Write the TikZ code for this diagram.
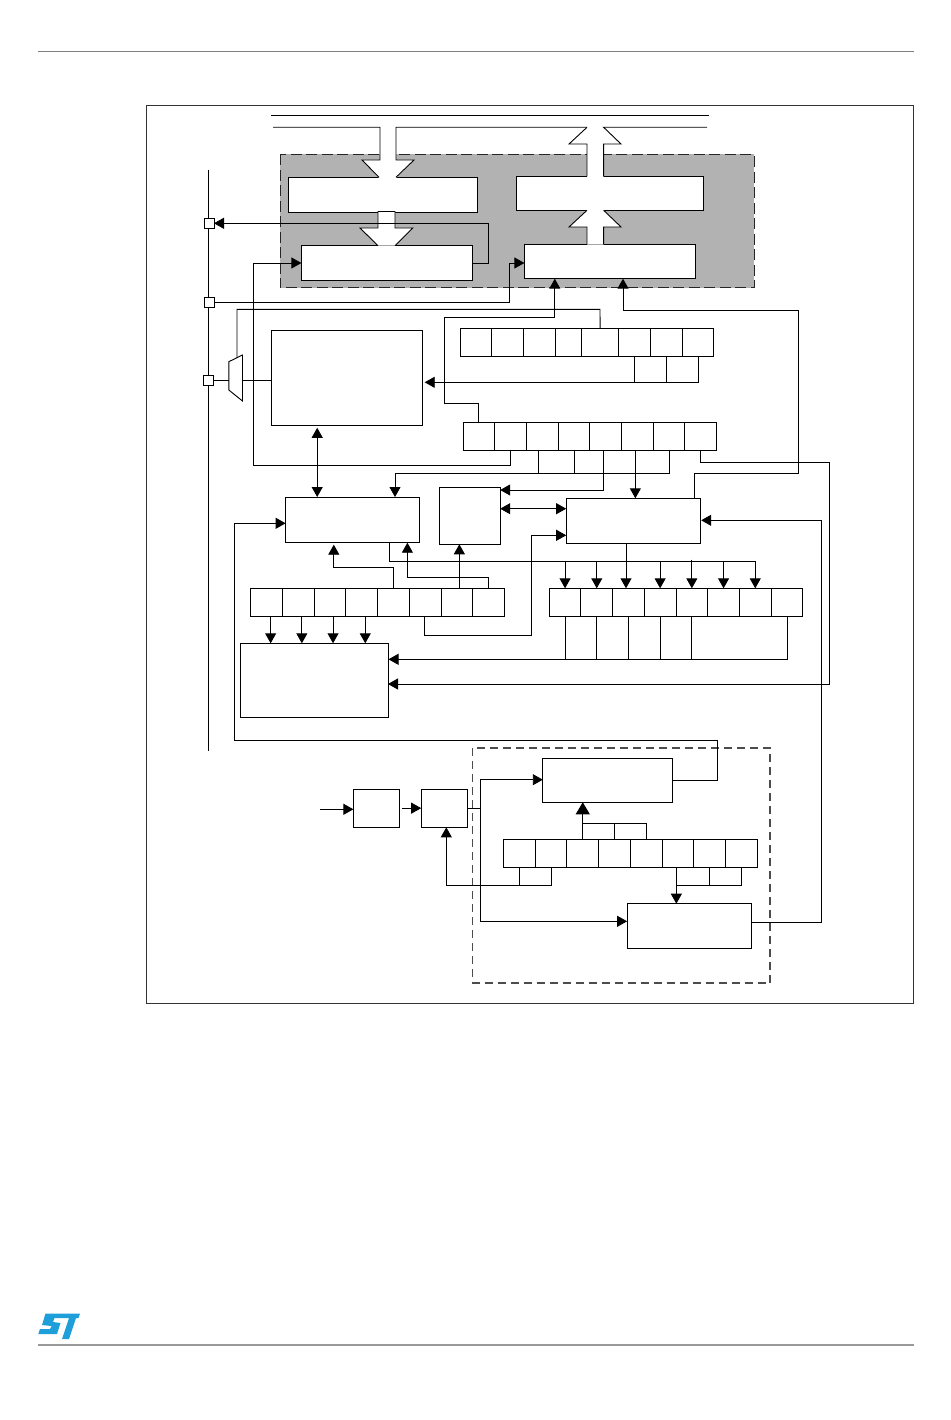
\documentclass[tikz,border=0pt]{standalone}
\usepackage{amsmath,amssymb,amsfonts}
\usetikzlibrary{arrows.meta}
\definecolor{stblue}{HTML}{1E9FDA}
\definecolor{panelgray}{HTML}{B2B2B2}
\tikzset{
  blk/.style={draw, fill=white, anchor=north west, inner sep=0pt, outer sep=0pt},
  regcell/.style={blk, minimum width=31.7pt, minimum height=28pt},
  pad/.style={draw, fill=white, minimum size=10pt, inner sep=0pt, outer sep=0pt}
}
\begin{document}
\begin{tikzpicture}[x=1pt, y=-1pt, line width=0.9pt, >={Triangle[length=10pt,width=11pt]}]
    \useasboundingbox (0,0) rectangle (950,1420);

    \draw[gray, line width=1pt] (38,52) -- (914,52);
    \draw[gray!80, line width=1.4pt] (38,1345) -- (914,1345);
    \fill[stblue] (45.5,1313.5) -- (80,1313.5) -- (78.5,1318) -- (76,1318) -- (69,1339) -- (62,1339) -- (69,1318) -- (54.5,1318) -- (53,1322) -- (60.5,1323) -- (57,1334) -- (38.3,1334) -- (40,1329) -- (50,1329) -- (51.5,1326) -- (42,1325) -- cycle;
    \draw[black!80] (146,105) rectangle (913,1003);

    \fill[panelgray] (280,154.3) rectangle (754,288);
    \draw[dash pattern=on 11pt off 4.5pt, black!85, line width=1pt] (280,154.3) rectangle (754,288);
    \draw[dash pattern=on 8pt off 5pt, black!70, line width=1.1pt] (472.5,748) rectangle (770,983);
    \draw (208,170) -- (208,751);

    \node[blk, minimum width=189.4pt, minimum height=34.7pt] (flashl) at (288.4,177.3) {};
    \node[blk, minimum width=187.2pt, minimum height=34pt] (flashr) at (516.3,176.3) {};
    \node[blk, minimum width=171.2pt, minimum height=34.6pt] (bufl) at (301.4,245.7) {};
    \node[blk, minimum width=171.3pt, minimum height=34.4pt] (bufr) at (524.4,244.3) {};

    \node[pad] (pina) at (209,223.3) {};
    \node[pad] (pinb) at (209,302.3) {};
    \node[pad] (pinc) at (208,380) {};

    \coordinate (muxl) at (228.8,380);
    \coordinate (muxr) at (242.5,380);
    \coordinate (muxt) at (237,358);
    \draw[fill=white] (228.8,361.7) -- (242.5,355) -- (242.5,401) -- (228.8,390) -- cycle;

    \node[blk, minimum width=151.3pt, minimum height=94.6pt] (conv) at (271.4,330.7) {};
    \node[blk, minimum width=134pt, minimum height=45.7pt] (ctrl) at (285.6,497) {};
    \node[blk, minimum width=60.4pt, minimum height=57.3pt] (dec) at (439.8,487) {};
    \node[blk, minimum width=134pt, minimum height=45.4pt] (core) at (566.2,498.3) {};
    \node[blk, minimum width=147.4pt, minimum height=73.7pt] (store) at (240.6,643.3) {};
    \node[blk, minimum width=129.4pt, minimum height=44pt] (capt) at (542.8,758.3) {};
    \node[blk, minimum width=46.5pt, minimum height=38.3pt] (presc) at (353.4,789) {};
    \node[blk, minimum width=46.5pt, minimum height=38.3pt] (divd) at (421.2,789) {};
    \node[blk, minimum width=124pt, minimum height=44.6pt] (cmp) at (627.1,903.7) {};

    \node[blk, minimum height=28pt, minimum width=31.5pt] (ra1) at (460.4,328) {};
    \node[blk, minimum height=28pt, minimum width=31.5pt] (ra2) at (491.9,328) {};
    \node[blk, minimum height=28pt, minimum width=32pt] (ra3) at (523.4,328) {};
    \node[blk, minimum height=28pt, minimum width=26pt] (ra4) at (555.4,328) {};
    \node[blk, minimum height=28pt, minimum width=37.4pt] (ra5) at (581.4,328) {};
    \node[blk, minimum height=28pt, minimum width=31.8pt] (ra6) at (618.8,328) {};
    \node[blk, minimum height=28pt, minimum width=31.4pt] (ra7) at (650.6,328) {};
    \node[blk, minimum height=28pt, minimum width=31.9pt] (ra8) at (682,328) {};

    \node[regcell] (rb1) at (463,422) {};
    \node[regcell] (rb2) at (494.7,422) {};
    \node[regcell] (rb3) at (526.4,422) {};
    \node[regcell] (rb4) at (558.1,422) {};
    \node[regcell] (rb5) at (589.8,422) {};
    \node[regcell] (rb6) at (621.5,422) {};
    \node[regcell] (rb7) at (653.2,422) {};
    \node[regcell] (rb8) at (684.9,422) {};

    \node[regcell] (rc1) at (250.8,588.5) {};
    \node[regcell] (rc2) at (282.5,588.5) {};
    \node[regcell] (rc3) at (314.2,588.5) {};
    \node[regcell] (rc4) at (345.9,588.5) {};
    \node[regcell] (rc5) at (377.6,588.5) {};
    \node[regcell] (rc6) at (409.3,588.5) {};
    \node[regcell] (rc7) at (441,588.5) {};
    \node[regcell] (rc8) at (472.7,588.5) {};

    \node[regcell] (rd1) at (549.2,588.3) {};
    \node[regcell] (rd2) at (580.9,588.3) {};
    \node[regcell] (rd3) at (612.6,588.3) {};
    \node[regcell] (rd4) at (644.3,588.3) {};
    \node[regcell] (rd5) at (676,588.3) {};
    \node[regcell] (rd6) at (707.7,588.3) {};
    \node[regcell] (rd7) at (739.4,588.3) {};
    \node[regcell] (rd8) at (771.1,588.3) {};

    \node[regcell] (re1) at (503.5,839.5) {};
    \node[regcell] (re2) at (535.2,839.5) {};
    \node[regcell] (re3) at (566.9,839.5) {};
    \node[regcell] (re4) at (598.6,839.5) {};
    \node[regcell] (re5) at (630.3,839.5) {};
    \node[regcell] (re6) at (662,839.5) {};
    \node[regcell] (re7) at (693.7,839.5) {};
    \node[regcell] (re8) at (725.4,839.5) {};

    \draw (271,115.3) -- (708.7,115.3);
    \fill[white] (380,127) -- (380,160) -- (362,160) -- (379,178) -- (396,178) -- (414,160) -- (396,160) -- (396,127) -- cycle;
    \draw (273,127.3) -- (380,127.3) -- (380,160) -- (362,160) -- (379,177.3);
    \draw (396,177.3) -- (414,160) -- (396,160) -- (396,127.3) -- (587,127.3);
    \fill[white] (587,177) -- (587,144) -- (569,144) -- (587,127.3) -- (603.6,127.3) -- (621,144) -- (603.6,144) -- (603.6,177) -- cycle;
    \draw (587,176.3) -- (587,144) -- (569,144) -- (587,127.3);
    \draw (707,127.3) -- (603.6,127.3) -- (621,144) -- (603.6,144) -- (603.6,176.3);
    \draw[fill=white] (378,245.7) -- (360,228) -- (378,228) -- (378,211.5) -- (395,211.5) -- (395,228) -- (412.7,228) -- (395,245.7);
    \fill[white] (587,244.7) -- (587,227) -- (569,227) -- (587,210) -- (603.6,210) -- (621,227) -- (603.6,227) -- (603.6,244.7) -- cycle;
    \draw (587,244.3) -- (587,227) -- (569,227) -- (587,210.3);
    \draw (603.6,210.3) -- (621,227) -- (603.6,227) -- (603.6,244.3);

    \draw[->] (bufl.east) -- (488.5,263) |- (pina.east);
    \draw[->] (rb2.south) |- (253,465.3) |- (bufl.west);
    \draw[->] (pinb.east) -| (509.3,263) -- (bufr.west |- 0,263);
    \draw[->] (rb1.north) |- (444,403.3) |- (554.8,317.3) -- (bufr.south -| 554.8,0);
    \draw[->] (core.north -| 694.3,0) |- (798,473.3) |- (623,310) -- (bufr.south -| 623,0);
    \draw (pinc.east) -- (muxl);
    \draw (muxr) -- (conv.west |- muxr);
    \draw (muxt) |- (600,309.3) -- (ra5.north);

    \draw[->, shorten >=2pt] (ra8.south) |- (conv.east |- 0,382.3);
    \draw (ra6.south) -- (ra6.south |- 0,382.3);
    \draw (ra7.south) -- (ra7.south |- 0,382.3);

    \draw[<->, shorten <=2.5pt] (conv.south -| 317.2,0) -- (ctrl.north -| 317.2,0);
    \draw[<->] (dec.east |- 0,508.7) -- (core.west |- 0,508.7);

    \draw[->] (rb7.south) |- (395,473.3) -- (ctrl.north -| 395,0);
    \draw ([xshift=-4pt]rb3.south) -- ([xshift=-4pt]rb3.south |- 0,473.3);
    \draw (rb4.south) -- (rb4.south |- 0,473.3);
    \draw[->] ([xshift=-2pt]rb5.south) |- (dec.east |- 0,490);
    \draw[->] ([xshift=-2pt]rb6.south) -- ([xshift=-2pt]rb6.south |- core.north);
    \draw[->] (rb8.south) |- (829.5,462.3) |- (store.east |- 0,684);

    \draw[->, shorten >=2pt] (rc5.north) |- (333.8,567.3) -- (ctrl.south -| 333.8,0);
    \draw[->] (rc8.north) |- (407.4,577) -- (ctrl.south -| 407.4,0);
    \draw[->] ([xshift=2.5pt]rc7.north) -- ([xshift=2.5pt]rc7.north |- dec.south);
    \draw[->] ([xshift=4pt]rc1.south) -- ([xshift=4pt]rc1.south |- store.north);
    \draw[->] ([xshift=3.5pt]rc2.south) -- ([xshift=3.5pt]rc2.south |- store.north);
    \draw[->] ([xshift=3pt]rc3.south) -- ([xshift=3pt]rc3.south |- store.north);
    \draw[->] ([xshift=3.5pt]rc4.south) -- ([xshift=3.5pt]rc4.south |- store.north);
    \draw[->] ([xshift=-1pt]rc6.south) |- (531,635.3) |- (core.west |- 0,535.3);

    \draw[->] (ctrl.south -| 389,0) |- (rd7.north |- 0,561.3) -- (rd7.north);
    \draw[->] (rd1.north |- 0,561.3) -- (rd1.north);
    \draw[->] (rd2.north |- 0,561.3) -- (rd2.north);
    \draw[->] (core.south -| 626,0) -- (rd3.north -| 626,0);
    \draw[->] (rd4.north |- 0,561.3) -- (rd4.north);
    \draw[->] (rd5.north |- 0,559.5) -- (rd5.north);
    \draw[->] (rd6.north |- 0,561.3) -- (rd6.north);

    \draw[->, shorten >=0.5pt] (rd8.south) |- (store.east |- 0,659.3);
    \draw (rd1.south) -- (rd1.south |- 0,659.3);
    \draw (rd2.south) -- (rd2.south |- 0,659.3);
    \draw (rd3.south) -- (rd3.south |- 0,659.3);
    \draw (rd4.south) -- (rd4.south |- 0,659.3);
    \draw (rd5.south) -- (rd5.south |- 0,659.3);

    \draw[->] (capt.east) -| (717,740.7) -| (234.2,523.3) -- (ctrl.west |- 0,523.3);
    \draw[->, shorten >=1pt] (cmp.east |- 0,922) -| (821,520.3) -- (core.east |- 0,520.3);

    \coordinate (clkin) at (320,809.3);
    \draw[->] (clkin) -- (presc.west |- clkin);
    \draw[->, shorten <=2pt] (presc.east) -- (divd.west);
    \draw[->] (divd.east) -| (480.8,779.7) -- (capt.west |- 0,779.7);
    \draw[->] (480.8,808) |- (cmp.west |- 0,921.3);

    \draw[-{Triangle[length=12pt,width=14pt]}] (re3.north) -- (re3.north |- capt.south);
    \draw (re5.north) |- (re3.north |- 0,823.3);
    \draw (re4.north) -- (re4.north |- 0,823.3);
    \draw[->] (re2.south) |- (446.3,885) -- (divd.south -| 446.3,0);
    \draw (re1.south) -- (re1.south |- 0,885);
    \draw[->] ([xshift=-1.5pt]re6.south) -- ([xshift=-1.5pt]re6.south |- cmp.north);
    \draw (re8.south) |- ([xshift=-1.5pt]re6.south |- 0,885.7);
    \draw (re7.south) -- (re7.south |- 0,885.7);
\end{tikzpicture}
\end{document}
